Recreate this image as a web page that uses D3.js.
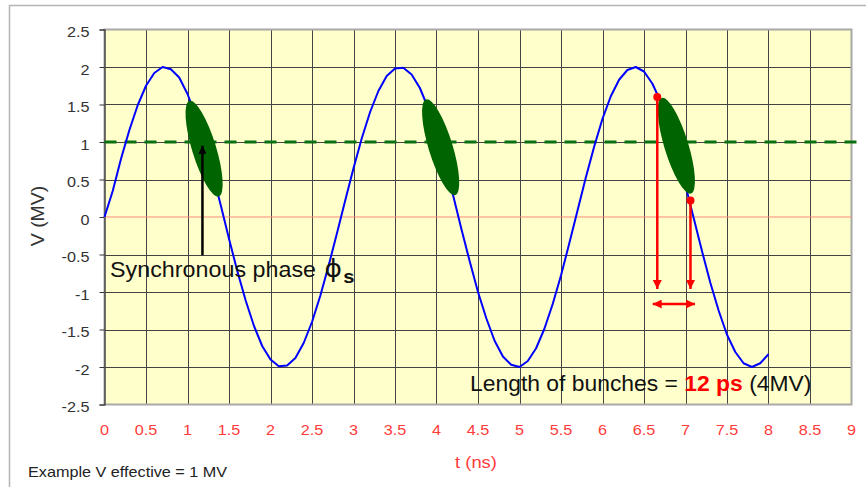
<!DOCTYPE html>
<html>
<head>
<meta charset="utf-8">
<script src="https://cdn.jsdelivr.net/npm/d3@7"></script>
<style>
  body { margin: 0; background: #fff; }
  svg { display: block; }
  text { font-family: "Liberation Sans", Arial, sans-serif; }
</style>
</head>
<body>
<svg id="chart" width="866" height="487"></svg>
<script>
// RF voltage seen by the beam, sampled every 0.1 ns (MV)
const sampleStepNs = 0.1;
const voltageMV = [
  0.00, 0.35, 0.78, 1.16, 1.49, 1.75, 1.92, 2.00, 1.97, 1.86,
  1.64, 1.35, 1.00, 0.59, 0.16, -0.29, -0.72, -1.11, -1.45, -1.72,
  -1.90, -1.99, -1.98, -1.88, -1.68, -1.40, -1.05, -0.65, -0.22, 0.22,
  0.65, 1.05, 1.40, 1.68, 1.88, 1.98, 1.99, 1.90, 1.72, 1.45,
  1.11, 0.72, 0.29, -0.16, -0.59, -1.00, -1.35, -1.65, -1.86, -1.97,
  -2.00, -1.92, -1.75, -1.49, -1.16, -0.78, -0.35, 0.09, 0.53, 0.94,
  1.31, 1.61, 1.83, 1.96, 2.00, 1.94, 1.78, 1.54, 1.22, 0.84,
  0.42, -0.02, -0.46, -0.88, -1.25, -1.57, -1.80, -1.95, -2.00, -1.95,
  -1.83
];

// Axis ticks
const xTicks = [0, 0.5, 1, 1.5, 2, 2.5, 3, 3.5, 4, 4.5, 5, 5.5, 6, 6.5, 7, 7.5, 8, 8.5, 9];
const yTicks = [-2.5, -2, -1.5, -1, -0.5, 0, 0.5, 1, 1.5, 2, 2.5];

// Effective (synchronous) voltage level
const synchronousLevelMV = 1;

// Bunch centres (ns, MV)
const bunchT = [1.20, 4.05, 6.89];
const bunchV = [0.91, 0.93, 0.95];

// Arrow pointing at the synchronous phase
const phaseArrowT = 1.18;
const phaseArrowV = [-0.51, 0.95];

// Bunch head / tail markers and the length arrows
const edgeT = [6.66, 7.06];
const edgeV = [1.60, 0.22];
const edgeArrowEndV = -0.96;
const spanArrowT = [6.605, 7.115];
const spanArrowV = -1.16;

const svg = d3.select("#chart");
const x = d3.scaleLinear().domain([0, 9]).range([104.5, 851.5]);
const y = d3.scaleLinear().domain([-2.5, 2.5]).range([404.5, 29.5]);
const textStretch = 1.08;
const plainNumber = d => String(d);

// Outer chart frame
svg.append("rect")
  .attr("x", 9.5).attr("y", 5.5).attr("width", 900).attr("height", 600)
  .attr("fill", "#fff").attr("stroke", "#b4b4b4").attr("stroke-width", 1.5);

// Plot area
svg.append("rect")
  .attr("x", x(0)).attr("y", y(2.5))
  .attr("width", x(9) - x(0)).attr("height", y(-2.5) - y(2.5))
  .attr("fill", "#ffffcc");

// Gridlines
const grid = svg.append("g").attr("stroke", "#444").attr("stroke-width", 1);
grid.selectAll("line.v").data(xTicks.slice(1, -1)).join("line")
  .attr("x1", d => Math.round(x(d)) + 0.5).attr("x2", d => Math.round(x(d)) + 0.5)
  .attr("y1", y(2.5)).attr("y2", y(-2.5));
grid.selectAll("line.h").data(yTicks.filter(d => d !== 0 && Math.abs(d) !== 2.5)).join("line")
  .attr("x1", x(0)).attr("x2", x(9))
  .attr("y1", d => Math.round(y(d)) + 0.5).attr("y2", d => Math.round(y(d)) + 0.5);

// Plot border
svg.append("rect")
  .attr("x", x(0)).attr("y", y(2.5))
  .attr("width", x(9) - x(0)).attr("height", y(-2.5) - y(2.5))
  .attr("fill", "none").attr("stroke", "#a8a8a8").attr("stroke-width", 2);

// Y axis
const yAxis = svg.append("g")
  .attr("transform", `translate(${x(0)},0)`)
  .call(d3.axisLeft(y).tickValues(yTicks).tickSize(5).tickPadding(0).tickFormat(plainNumber));
yAxis.select(".domain").attr("stroke", "#333").attr("stroke-width", 1.2);
yAxis.selectAll(".tick line").attr("stroke", "#333");
yAxis.selectAll(".tick text")
  .attr("x", null).attr("dy", null).attr("text-anchor", "end")
  .attr("transform", `translate(-15,7) scale(${textStretch},1)`)
  .attr("fill", "#333").attr("font-size", 15)
  .attr("font-family", "Liberation Sans, Arial, sans-serif");

// X axis runs along V = 0, labels sit below the plot
svg.append("line")
  .attr("x1", x(0)).attr("x2", x(9))
  .attr("y1", y(0)).attr("y2", y(0))
  .attr("stroke", "#ff8a7a").attr("stroke-width", 1);
svg.append("g").selectAll("text").data(xTicks).join("text")
  .attr("transform", d => `translate(${x(d)},435) scale(${textStretch},1)`)
  .attr("text-anchor", "middle").attr("font-size", 15).attr("fill", "#ff3b3b")
  .text(plainNumber);

// Axis titles
svg.append("text")
  .attr("transform", `translate(44,216) rotate(-90) scale(${textStretch},1)`)
  .attr("text-anchor", "middle").attr("font-size", 18).attr("fill", "#333")
  .text("V (MV)");
svg.append("text")
  .attr("transform", `translate(476,468) scale(${textStretch},1)`)
  .attr("text-anchor", "middle").attr("font-size", 17).attr("fill", "#ff3b3b")
  .text("t (ns)");

// Synchronous voltage level
svg.append("line")
  .attr("x1", x(0)).attr("x2", x(9) + 5)
  .attr("y1", y(synchronousLevelMV)).attr("y2", y(synchronousLevelMV))
  .attr("stroke", "#0a7010").attr("stroke-width", 3).attr("stroke-dasharray", "12,8");

// RF waveform
const line = d3.line().x((d, i) => x(i * sampleStepNs)).y(d => y(d));
svg.append("path").datum(voltageMV)
  .attr("d", line).attr("fill", "none")
  .attr("stroke", "#0000ff").attr("stroke-width", 2).attr("stroke-linejoin", "round");

// Bunches
svg.append("g").selectAll("ellipse").data(bunchT).join("ellipse")
  .attr("cx", 0).attr("cy", 0).attr("rx", 12).attr("ry", 50)
  .attr("transform", (d, i) => `translate(${x(d)},${y(bunchV[i])}) rotate(-17)`)
  .attr("fill", "#006400");

// Arrow markers
const defs = svg.append("defs");
defs.append("marker").attr("id", "headBlack")
  .attr("viewBox", "0 0 10 10").attr("refX", 10).attr("refY", 5)
  .attr("markerUnits", "userSpaceOnUse").attr("markerWidth", 9).attr("markerHeight", 8)
  .attr("orient", "auto")
  .append("path").attr("d", "M0,0L10,5L0,10Z").attr("fill", "#000");
defs.append("marker").attr("id", "headRed")
  .attr("viewBox", "0 0 10 10").attr("refX", 10).attr("refY", 5)
  .attr("markerUnits", "userSpaceOnUse").attr("markerWidth", 10).attr("markerHeight", 9)
  .attr("orient", "auto-start-reverse")
  .append("path").attr("d", "M0,0L10,5L0,10Z").attr("fill", "#ff0000");

// Synchronous phase arrow
svg.append("line")
  .attr("x1", x(phaseArrowT)).attr("x2", x(phaseArrowT))
  .attr("y1", y(phaseArrowV[0])).attr("y2", y(phaseArrowV[1]))
  .attr("stroke", "#000").attr("stroke-width", 2.5).attr("marker-end", "url(#headBlack)");

// Bunch length construction
const red = svg.append("g");
red.selectAll("line.edge").data(edgeT).join("line")
  .attr("x1", d => x(d)).attr("x2", d => x(d))
  .attr("y1", (d, i) => y(edgeV[i])).attr("y2", y(edgeArrowEndV))
  .attr("stroke", "#ff0000").attr("stroke-width", 2.5).attr("marker-end", "url(#headRed)");
red.selectAll("circle").data(edgeT).join("circle")
  .attr("cx", d => x(d)).attr("cy", (d, i) => y(edgeV[i])).attr("r", 4)
  .attr("fill", "#ff0000");
red.append("line")
  .attr("x1", x(spanArrowT[0])).attr("x2", x(spanArrowT[1]))
  .attr("y1", y(spanArrowV)).attr("y2", y(spanArrowV))
  .attr("stroke", "#ff0000").attr("stroke-width", 2.5)
  .attr("marker-start", "url(#headRed)").attr("marker-end", "url(#headRed)");

// Annotations
const sync = svg.append("text")
  .attr("transform", `translate(110,277) scale(1.06,1)`)
  .attr("font-size", 22).attr("fill", "#111");
sync.append("tspan").text("Synchronous phase ");
sync.append("tspan").attr("font-family", "DejaVu Sans").attr("font-size", 25).attr("dx", 2).text("ϕ");
sync.append("tspan").attr("dy", 6).attr("dx", 1).attr("font-size", 19).attr("font-weight", "bold").text("s");

const len = svg.append("text")
  .attr("transform", `translate(470,391) scale(1.04,1)`)
  .attr("font-size", 22).attr("fill", "#111");
len.append("tspan").text("Length of bunches = ");
len.append("tspan").attr("font-weight", "bold").attr("fill", "#ff0000").text("12 ps");
len.append("tspan").text(" (4MV)");

svg.append("text")
  .attr("transform", `translate(28,477) scale(${textStretch},1)`)
  .attr("font-size", 15).attr("fill", "#222")
  .text("Example V effective = 1 MV");
</script>
</body>
</html>
